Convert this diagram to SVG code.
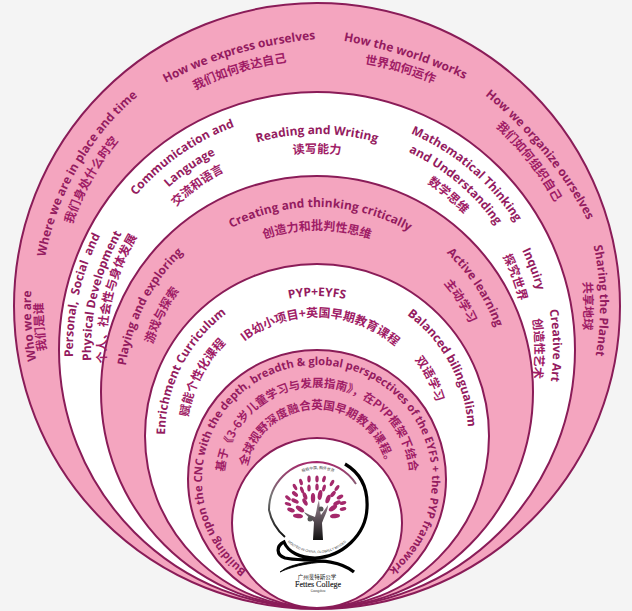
<svg xmlns="http://www.w3.org/2000/svg" width="632" height="611" viewBox="0 0 632 611">
<style>
.pink{fill:#f4a5bf;stroke:#8a1c58;stroke-width:2}
.white{fill:#fff;stroke:#8a1c58;stroke-width:2}
.en{font-family:"Open Sans","Liberation Sans",sans-serif;font-weight:700;font-size:12px;fill:#941b60;text-anchor:middle}
.zh{font-family:"Noto Sans CJK SC",sans-serif;font-weight:700;font-size:12px;fill:#a01c66;text-anchor:middle}
.leaf{fill:#a5296b}
</style>
<defs>
<path id="a286" d="M317 592A286 286 0 1 1 317 20A286 286 0 1 1 317 592"/>
<path id="a283" d="M317 589A283 283 0 1 1 317 23A283 283 0 1 1 317 589"/>
<path id="a276" d="M317 582A276 276 0 1 1 317 30A276 276 0 1 1 317 582"/>
<path id="a274" d="M317 580A274 274 0 1 1 317 32A274 274 0 1 1 317 580"/>
<path id="a267" d="M317 573A267 267 0 1 1 317 39A267 267 0 1 1 317 573"/>
<path id="a258" d="M317 564A258 258 0 1 1 317 48A258 258 0 1 1 317 564"/>
<path id="x1" d="M347 818A390 390 0 1 1 347 38A390 390 0 1 1 347 818"/>
<path id="x2" d="M328 659A300 300 0 1 1 328 59A300 300 0 1 1 328 659"/>
<path id="x3" d="M255 1033A500 500 0 1 1 255 33A500 500 0 1 1 255 1033"/>
<path id="x4" d="M317 660A300 300 0 1 1 317 60A300 300 0 1 1 317 660"/>
<path id="x5" d="M233 806A400 400 0 1 1 233 6A400 400 0 1 1 233 806"/>
<path id="x6" d="M292 647A300 300 0 1 1 292 47A300 300 0 1 1 292 647"/>
<path id="p1" d="M327 604A254 254 0 1 1 327 96A254 254 0 1 1 327 604"/>
<path id="p2" d="M327 586A236 236 0 1 1 327 114A236 236 0 1 1 327 586"/>
<path id="p3" d="M327 571A221 221 0 1 1 327 129A221 221 0 1 1 327 571"/>
<path id="b238" d="M317 588A238 238 0 1 1 317 112A238 238 0 1 1 317 588"/>
<path id="b236" d="M317 586A236 236 0 1 1 317 114A236 236 0 1 1 317 586"/>
<path id="b228" d="M317 578A228 228 0 1 1 317 122A228 228 0 1 1 317 578"/>
<path id="b220" d="M317 570A220 220 0 1 1 317 130A220 220 0 1 1 317 570"/>
<path id="b218" d="M317 568A218 218 0 1 1 317 132A218 218 0 1 1 317 568"/>
<path id="b216" d="M317 566A216 216 0 1 1 317 134A216 216 0 1 1 317 566"/>
<path id="b208" d="M317 558A208 208 0 1 1 317 142A208 208 0 1 1 317 558"/>
<path id="b201" d="M317 551A201 201 0 1 1 317 149A201 201 0 1 1 317 551"/>
<path id="b200" d="M317 550A200 200 0 1 1 317 150A200 200 0 1 1 317 550"/>
<path id="b197" d="M317 547A197 197 0 1 1 317 153A197 197 0 1 1 317 547"/>
<path id="c193" d="M317 585A193 193 0 1 1 317 199A193 193 0 1 1 317 585"/>
<path id="c190" d="M317 582A190 190 0 1 1 317 202A190 190 0 1 1 317 582"/>
<path id="c185" d="M317 577A185 185 0 1 1 317 207A185 185 0 1 1 317 577"/>
<path id="c171" d="M317 563A171 171 0 1 1 317 221A171 171 0 1 1 317 563"/>
<path id="c167" d="M317 559A167 167 0 1 1 317 225A167 167 0 1 1 317 559"/>
<path id="c162" d="M317 554A162 162 0 1 1 317 230A162 162 0 1 1 317 554"/>
<path id="d152" d="M317 588A152 152 0 1 1 317 284A152 152 0 1 1 317 588"/>
<path id="d151" d="M317 587A151 151 0 1 1 317 285A151 151 0 1 1 317 587"/>
<path id="d140" d="M317 576A140 140 0 1 1 317 296A140 140 0 1 1 317 576"/>
<path id="d130" d="M317 566A130 130 0 1 1 317 306A130 130 0 1 1 317 566"/>
<path id="d124" d="M317 560A124 124 0 1 1 317 312A124 124 0 1 1 317 560"/>
<path id="d119" d="M317 555A119 119 0 1 1 317 317A119 119 0 1 1 317 555"/>
<path id="e115" d="M317 595A115 115 0 1 1 317 365A115 115 0 1 1 317 595"/>
<path id="e93" d="M317 573A93 93 0 1 1 317 387A93 93 0 1 1 317 573"/>
<path id="e71" d="M317 551A71 71 0 1 1 317 409A71 71 0 1 1 317 551"/>
<path id="lt" d="M280 507A38 38 0 0 1 356 507"/>
<path id="lb" d="M272 508A45 45 0 0 0 362 508"/>
<linearGradient id="ringG" x1="0" y1="0" x2="0" y2="1"><stop offset="0" stop-color="#a5296b"/><stop offset=".45" stop-color="#777"/><stop offset="1" stop-color="#111"/></linearGradient>
<linearGradient id="trunkG" x1="0" y1="0" x2="0" y2="1"><stop offset="0" stop-color="#a08a98"/><stop offset="1" stop-color="#111"/></linearGradient>
</defs>
<rect width="632" height="611" fill="#f4f4f4"/>
<g id="rings">
<circle id="ring1" class="pink" cx="317" cy="306" r="303"/>
<circle id="ring2" class="white" cx="317" cy="350" r="258"/>
<circle id="ring3" class="pink" cx="317" cy="392" r="216"/>
<circle id="ring4" class="white" cx="317" cy="436" r="172"/>
<circle id="ring5" class="pink" cx="317" cy="479" r="129"/>
<circle id="ring6" class="white" cx="317" cy="523" r="85"/>
</g>
<g id="labels1">
<text class="en"><textPath href="#a286" startOffset="23.9%">Who we are</textPath></text>
<text class="zh"><textPath href="#a274" startOffset="23.8%">我们是谁</textPath></text>
<text class="en"><textPath href="#a276" startOffset="33.3%">Where we are in place and time</textPath></text>
<text class="zh"><textPath href="#a258" startOffset="33.1%">我们身处什么时空</textPath></text>
<text class="en"><textPath href="#x1" startOffset="45.5%">How we express ourselves</textPath></text>
<text class="zh"><textPath href="#x2" startOffset="45.25%">我们如何表达自己</textPath></text>
<text class="en"><textPath href="#x3" startOffset="54.86%">How the world works</textPath></text>
<text class="zh"><textPath href="#x4" startOffset="54.44%">世界如何运作</textPath></text>
<text class="en"><textPath href="#x5" startOffset="64.08%">How we organize ourselves</textPath></text>
<text class="zh"><textPath href="#x6" startOffset="64.44%">我们如何组织自己</textPath></text>
<text class="en"><textPath href="#a283" startOffset="74.7%">Sharing the Planet</textPath></text>
<text class="zh"><textPath href="#a267" startOffset="75%">共享地球</textPath></text>
</g>
<g id="labels2">
<text class="en" xml:space="preserve"><textPath href="#p1" startOffset="28.5%">Personal,  Social  and</textPath></text>
<text class="en"><textPath href="#p2" startOffset="28.75%">Physical Development</textPath></text>
<text class="zh"><textPath href="#p3" startOffset="28.8%">个人、社会性与身体发展</textPath></text>
<text class="en"><textPath href="#b238" startOffset="40.3%">Communication and</textPath></text>
<text class="en"><textPath href="#b220" startOffset="40.3%">Language</textPath></text>
<text class="zh"><textPath href="#b201" startOffset="40%">交流和语言</textPath></text>
<text class="en"><textPath href="#b216" startOffset="50%">Reading and Writing</textPath></text>
<text class="zh"><textPath href="#b197" startOffset="50%">读写能力</textPath></text>
<text class="en"><textPath href="#b236" startOffset="61.2%">Mathematical Thinking</textPath></text>
<text class="en"><textPath href="#b218" startOffset="61.1%">and Understanding</textPath></text>
<text class="zh"><textPath href="#b200" startOffset="61.2%">数学思维</textPath></text>
<text class="en"><textPath href="#b228" startOffset="69.3%">Inquiry</textPath></text>
<text class="zh"><textPath href="#b208" startOffset="69.4%">探究世界</textPath></text>
<text class="en"><textPath href="#b236" startOffset="74.7%">Creative Art</textPath></text>
<text class="zh"><textPath href="#b218" startOffset="74.9%">创造性艺术</textPath></text>
</g>
<g id="labels3">
<text class="en"><textPath href="#c193" startOffset="32.5%">Playing and exploring</textPath></text>
<text class="zh"><textPath href="#c171" startOffset="32.3%">游戏与探索</textPath></text>
<text class="en"><textPath href="#c185" startOffset="50.3%">Creating and thinking critically</textPath></text>
<text class="zh"><textPath href="#c162" startOffset="50%">创造力和批判性思维</textPath></text>
<text class="en"><textPath href="#c190" startOffset="65.7%">Active learning</textPath></text>
<text class="zh"><textPath href="#c167" startOffset="66%">主动学习</textPath></text>
</g>
<g id="labels4">
<text class="en"><textPath href="#d152" startOffset="32.5%">Enrichment Curriculum</textPath></text>
<text class="zh"><textPath href="#d130" startOffset="32.5%">赋能个性化课程</textPath></text>
<text class="en"><textPath href="#d140" startOffset="50%">PYP+EYFS</textPath></text>
<text class="zh"><textPath href="#d119" startOffset="50.5%">IB幼小项目+英国早期教育课程</textPath></text>
<text class="en"><textPath href="#d151" startOffset="67.1%">Balanced bilingualism</textPath></text>
<text class="zh"><textPath href="#d124" startOffset="67.5%">双语学习</textPath></text>
</g>
<g id="labels5">
<text class="en" style="font-size:11.2px"><textPath href="#e115" startOffset="49.9%">Building upon the CNC with the depth, breadth &amp; global perspectives of the EYFS + the PYP framework</textPath></text>
<text class="zh" style="font-size:11.5px"><textPath href="#e93" startOffset="50%">基于《3-6岁儿童学习与发展指南》，在PYP框架下结合</textPath></text>
<text class="zh" style="font-size:11.5px"><textPath href="#e71" startOffset="50%">全球视野深度融合英国早期教育课程。</textPath></text>
</g>
<g id="logo">
<path d="M285 537A48 48 0 0 1 269 510A48 48 0 0 1 317 462A48 48 0 0 1 356 484" fill="none" stroke="url(#ringG)" stroke-width="2"/>
<path d="M345 464C362 474 368 490 367 508C366 535 342 557 315 558C300 558 288 552 284 542C276 546 276 555 285 558C300 562 335 556 354 572" fill="none" stroke="#000" stroke-width="3.2"/>
<path d="M280 572C292 562 320 560 330 562C315 562 295 565 280 572Z" fill="#000" stroke="#000" stroke-width=".8"/>
<path d="M313 540L314 522C311 518 307 517 304 512C308 514 312 516 315 517C317 510 317 505 319 500C320 508 320 513 321 515L328 505C328 511 324 517 322 523L323 540Z" fill="url(#trunkG)"/>
<circle cx="321" cy="509" r="2.5" fill="#555"/><circle cx="310" cy="519" r="2.5" fill="#555"/>
<g class="leaf">
<ellipse cx="309" cy="479" rx="1.7" ry="3.4"/><ellipse cx="317" cy="479" rx="1.7" ry="3.4"/><ellipse cx="324" cy="479" rx="1.7" ry="3.4" transform="rotate(15 324 479)"/><ellipse cx="301" cy="482" rx="1.7" ry="3.4" transform="rotate(-15 301 482)"/>
<ellipse cx="295" cy="487" rx="1.7" ry="3.4" transform="rotate(-30 295 487)"/><ellipse cx="302" cy="490" rx="1.7" ry="3.6" transform="rotate(-20 302 490)"/><ellipse cx="309" cy="488" rx="1.7" ry="3.6"/><ellipse cx="317" cy="487" rx="1.7" ry="3.6"/><ellipse cx="324" cy="488" rx="1.7" ry="3.6" transform="rotate(15 324 488)"/><ellipse cx="332" cy="483" rx="1.7" ry="3.4" transform="rotate(30 332 483)"/><ellipse cx="337" cy="488" rx="1.7" ry="3.4" transform="rotate(35 337 488)"/>
<ellipse cx="295" cy="494" rx="1.9" ry="3.6" transform="rotate(-50 295 494)"/><ellipse cx="305" cy="496" rx="2" ry="4" transform="rotate(-20 305 496)"/><ellipse cx="313" cy="498" rx="2.2" ry="5"/><ellipse cx="320" cy="495" rx="2.2" ry="5" transform="rotate(10 320 495)"/><ellipse cx="328" cy="499" rx="2.2" ry="4.5" transform="rotate(20 328 499)"/><ellipse cx="333" cy="494" rx="1.9" ry="3.6" transform="rotate(40 333 494)"/><ellipse cx="340" cy="497" rx="1.9" ry="3.6" transform="rotate(60 340 497)"/>
<ellipse cx="288" cy="498" rx="1.7" ry="3.4" transform="rotate(-50 288 498)"/><ellipse cx="295" cy="501" rx="2" ry="4" transform="rotate(-65 295 501)"/><ellipse cx="305" cy="502" rx="2" ry="4" transform="rotate(-30 305 502)"/><ellipse cx="337" cy="503" rx="2" ry="4" transform="rotate(65 337 503)"/>
<ellipse cx="288" cy="504" rx="1.7" ry="3.4" transform="rotate(-70 288 504)"/><ellipse cx="300" cy="509" rx="2.3" ry="4.8" transform="rotate(-55 300 509)"/><ellipse cx="291" cy="510" rx="2" ry="4" transform="rotate(-70 291 510)"/><ellipse cx="298" cy="516" rx="2.2" ry="5" transform="rotate(-85 298 516)"/><ellipse cx="335" cy="516" rx="2.2" ry="5" transform="rotate(85 335 516)"/><ellipse cx="333" cy="508" rx="2.3" ry="4.8" transform="rotate(55 333 508)"/><ellipse cx="343" cy="503" rx="1.8" ry="3.4" transform="rotate(75 343 503)"/><ellipse cx="343" cy="509" rx="1.8" ry="3.4" transform="rotate(80 343 509)"/>
</g>
<text font-family="Noto Sans CJK SC,sans-serif" font-size="3.8" fill="#444" text-anchor="middle"><textPath href="#lt" startOffset="50%">根植中国, 胸怀世界</textPath></text>
<text font-family="Liberation Sans,sans-serif" font-size="3.4" fill="#333" text-anchor="middle"><textPath href="#lb" startOffset="50%">ROOTED IN CHINA, GLOBALLY MINDED</textPath></text>
<text x="317" y="579" font-family="Noto Sans CJK SC,sans-serif" font-size="5.5" fill="#222" text-anchor="middle">广州斐特斯公学</text>
<text x="318" y="587" font-family="Liberation Serif,serif" font-size="8" fill="#222" text-anchor="middle" stroke="#222" stroke-width=".15">Fettes College</text>
<text x="318" y="591.5" font-family="Liberation Serif,serif" font-size="3.2" fill="#333" text-anchor="middle">Guangzhou</text>
</g>
</svg>
